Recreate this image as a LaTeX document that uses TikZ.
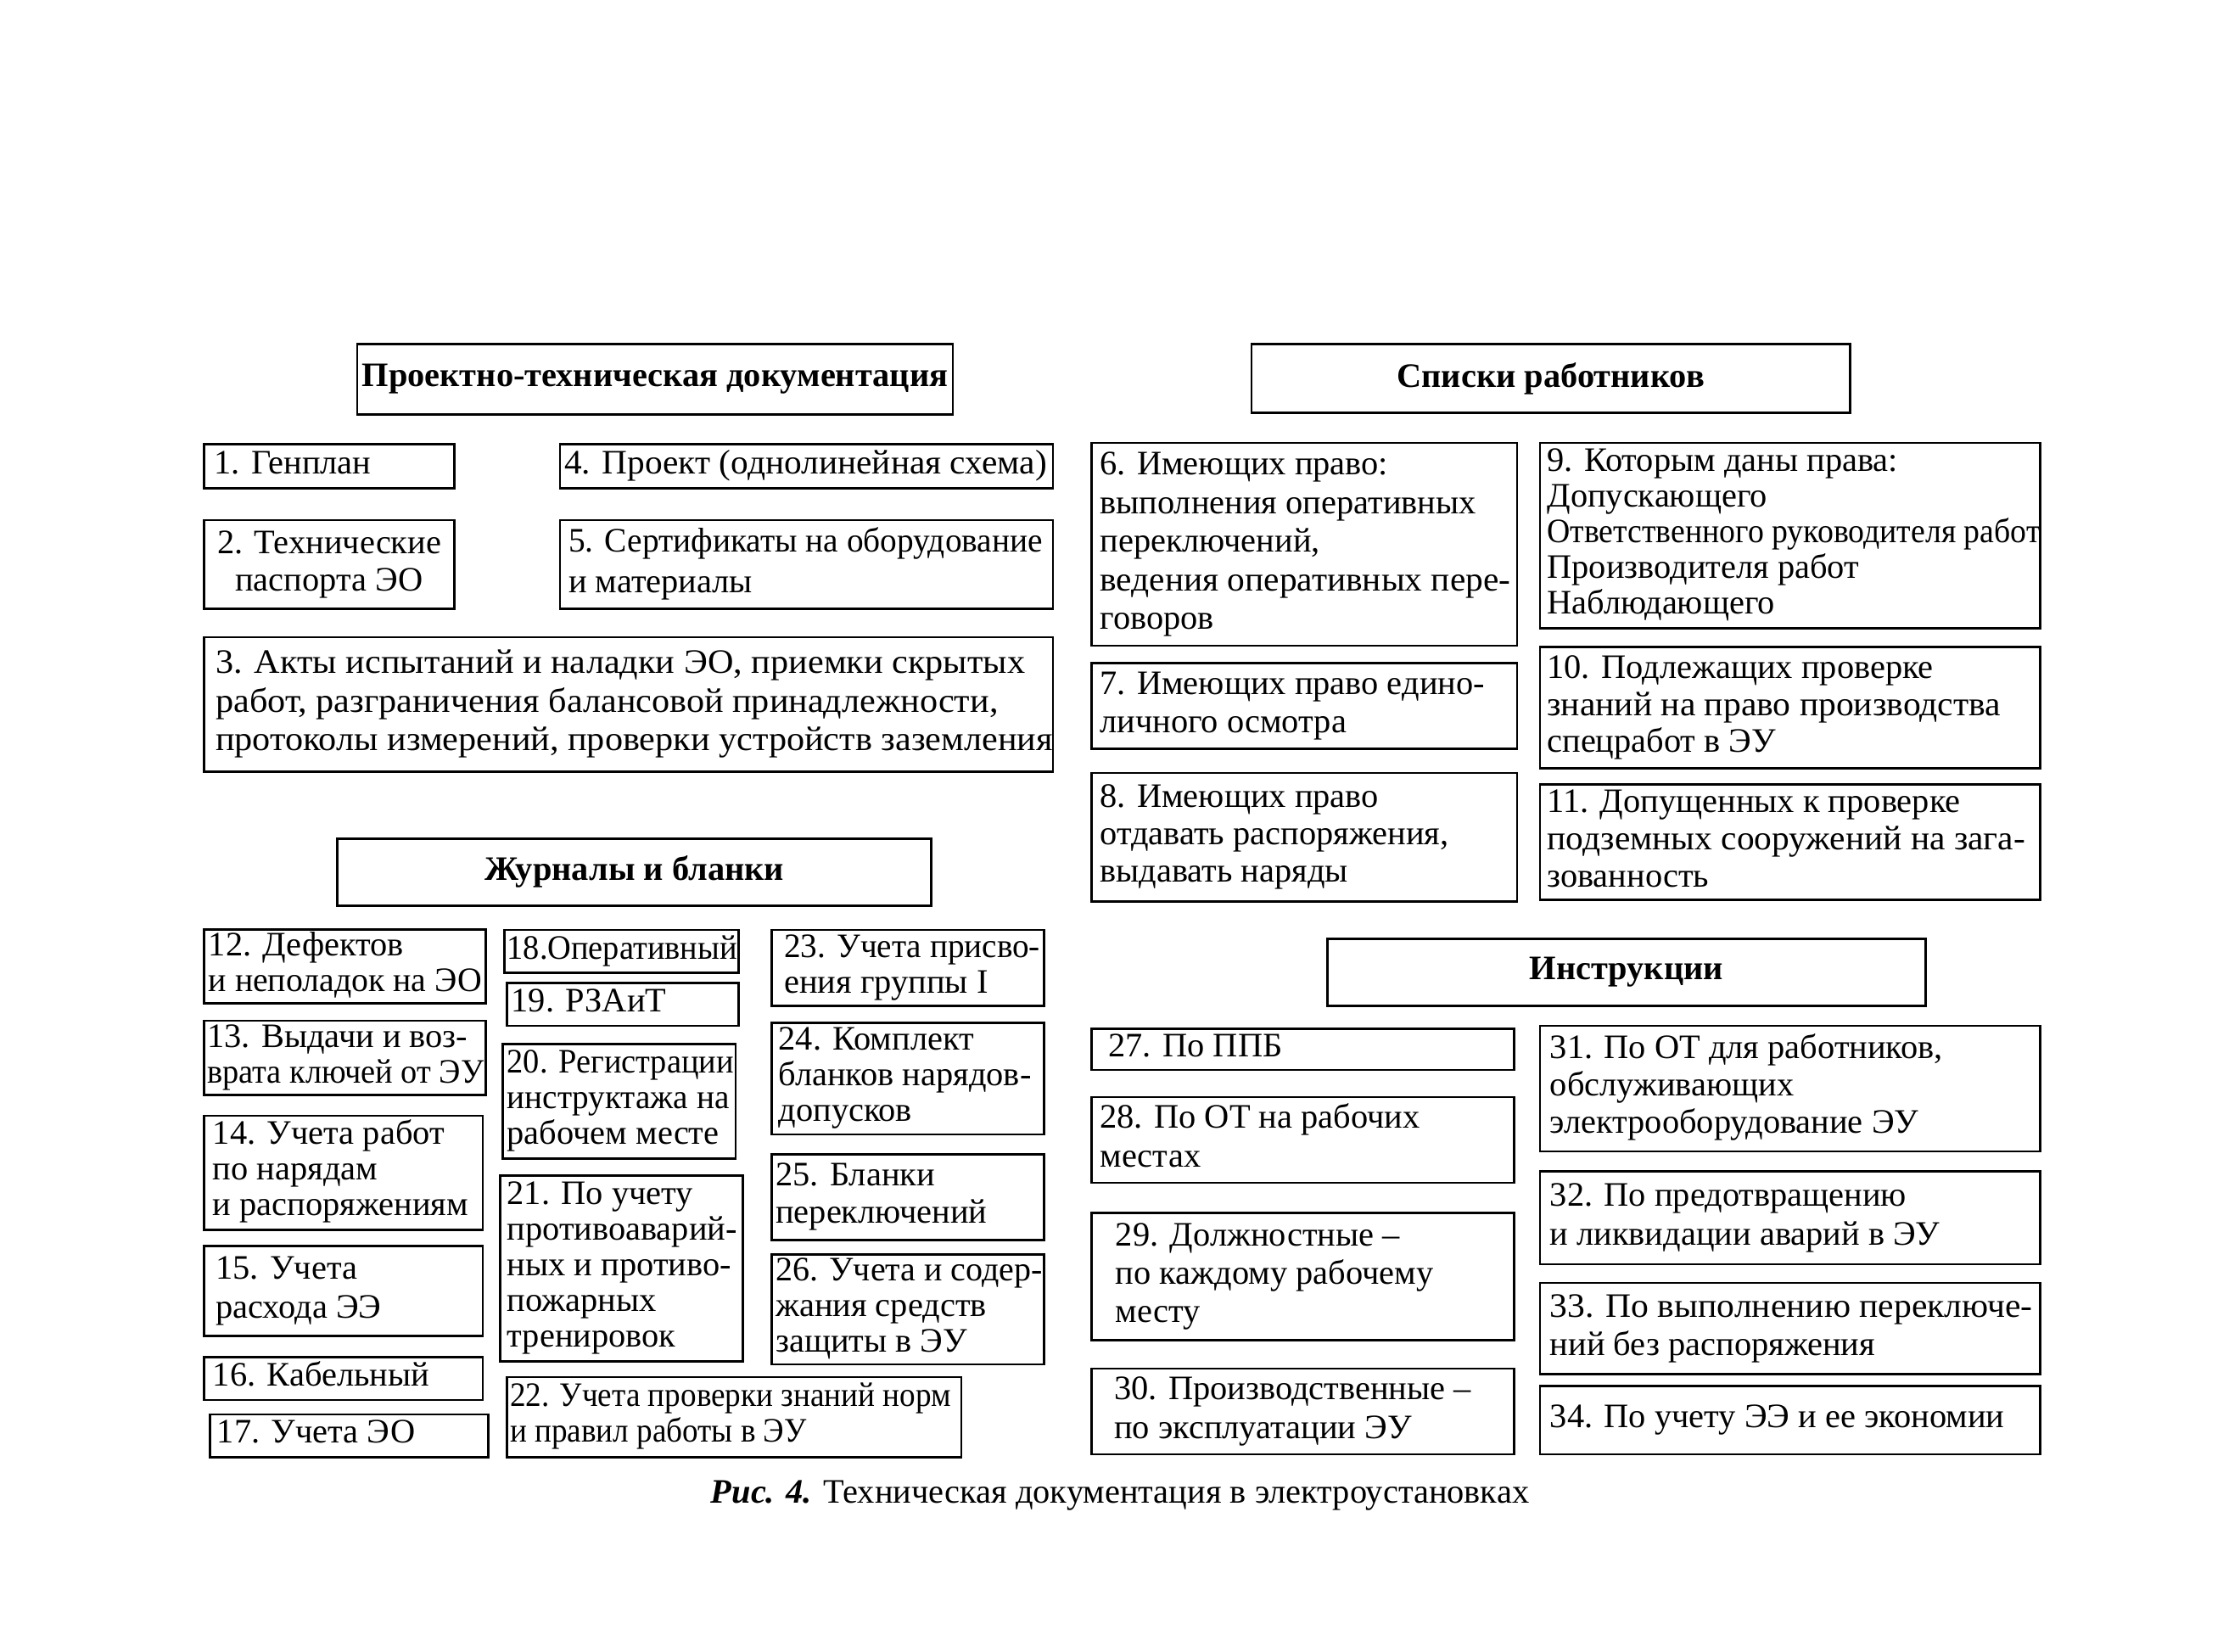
\documentclass[tikz,border=0pt]{standalone}
\usepackage{fontspec}
\usepackage{graphicx}
\setmainfont{Liberation Serif}
\tikzset{
  box/.style={draw, line width=1.6pt, inner xsep=0pt, inner ysep=1pt, font=\fontsize{24}{26}\selectfont},
  hdr/.style={draw, line width=1.6pt, inner sep=0pt, font=\fontsize{24}{26}\selectfont\bfseries},
  lead/.style={font=\fontsize{24}{#1}\selectfont},
  capt/.style={inner sep=0pt, font=\fontsize{24}{26}\selectfont},
}
\newcommand\sq[2]{\scalebox{#1}[1]{#2}}
\newcommand\bx[8][]{%
  \pgfmathsetmacro\bxw{#5-#3}%
  \pgfmathsetmacro\bxh{#6-#4}%
  \pgfmathsetmacro\bxcx{(#3+#5)/2}%
  \pgfmathsetmacro\bxcy{(#4+#6)/2}%
  \node[box,minimum width=\bxw pt,minimum height=\bxh pt,#1] (#2) at (\bxcx,\bxcy)
    {\makebox[\bxw pt][l]{\hspace*{#7pt}\begin{tabular}{@{}l@{}}#8\end{tabular}}};%
}
\newcommand\hd[6]{%
  \pgfmathsetmacro\bxw{#4-#2}%
  \pgfmathsetmacro\bxh{#5-#3}%
  \pgfmathsetmacro\bxcx{(#2+#4)/2}%
  \pgfmathsetmacro\bxcy{(#3+#5)/2}%
  \node[hdr,minimum width=\bxw pt,minimum height=\bxh pt] (#1) at (\bxcx,\bxcy) {#6};%
}
\begin{document}
\begin{tikzpicture}[x=1pt,y=-1pt]
\useasboundingbox[fill=white] (0,0) rectangle (1568,1156);
% --- Project-technical documentation
\hd{h1}{250}{241}{667}{290}{Проектно-техническая документация}
\bx{b1}{143}{311}{318}{342}{7}{1. Генплан}
\bx{b4}{392}{311}{737}{342}{3}{\sq{1.024}{4. Проект (однолинейная схема)}}
\node[box,minimum width=175pt,minimum height=62pt,align=center] (b2) at (230.5,395) {2. Технические\\паспорта ЭО};
\bx[lead=28]{b5}{392}{364}{737}{426}{6}{\sq{0.975}{5. Сертификаты на оборудование}\\и материалы}
\bx[lead=27]{b3}{143}{446}{737}{540}{8}{\sq{1.045}{3. Акты испытаний и наладки ЭО, приемки скрытых}\\\sq{1.045}{работ, разграничения балансовой принадлежности,}\\\sq{1.045}{протоколы измерений, проверки устройств заземления}}
% --- Lists of workers
\hd{h2}{876}{241}{1295}{289}{Списки работников}
\bx[lead=27]{b6}{764}{310}{1062}{452}{6}{6. Имеющих право:\\выполнения оперативных\\переключений,\\\sq{1.025}{ведения оперативных пере-}\\говоров}
\bx[lead=25]{b9}{1078}{310}{1428}{440}{5}{9. Которым даны права:\\Допускающего\\\sq{0.935}{Ответственного руководителя работ}\\Производителя работ\\Наблюдающего}
\bx[lead=27]{b7}{764}{464}{1062}{524}{6}{7. Имеющих право едино-\\личного осмотра}
\bx[lead=26]{b10}{1078}{453}{1428}{538}{5}{10. Подлежащих проверке\\\sq{1.03}{знаний на право производства}\\спецработ в ЭУ}
\bx[lead=26]{b8}{764}{541}{1062}{631}{6}{8. Имеющих право\\отдавать распоряжения,\\выдавать наряды}
\bx[lead=26]{b11}{1078}{549}{1428}{630}{5}{11. Допущенных к проверке\\\sq{1.025}{подземных сооружений на зага-}\\зованность}
% --- Journals and forms
\hd{h3}{236}{587}{652}{634}{Журналы и бланки}
\bx[lead=25]{b12}{143}{651}{340}{702}{3}{12. Дефектов\\\sq{0.985}{и неполадок на ЭО}}
\bx[lead=25]{b13}{143}{715}{340}{766}{2}{13. Выдачи и воз-\\\sq{0.95}{врата ключей от ЭУ}}
\bx[lead=25]{b14}{143}{781}{338}{861}{6}{14. Учета работ\\по нарядам\\и распоряжениям}
\bx[lead=27]{b15}{143}{872}{338}{935}{8}{15. Учета\\расхода ЭЭ}
\bx{b16}{143}{950}{338}{980}{6}{16. Кабельный}
\bx{b17}{147}{990}{342}{1020}{5}{17. Учета ЭО}
\bx{b18}{353}{651}{517}{681}{2}{\sq{0.95}{18.Оперативный}}
\bx{b19}{355}{688}{517}{718}{3}{19. РЗАиТ}
\bx[lead=25]{b20}{352}{731}{515}{811}{3}{\sq{0.95}{20. Регистрации}\\\sq{0.97}{инструктажа на}\\рабочем месте}
\bx[lead=25]{b21}{350}{823}{520}{953}{5}{21. По учету\\противоаварий-\\ных и противо-\\пожарных\\тренировок}
\bx[lead=25]{b22}{355}{964}{673}{1020}{2}{\sq{0.92}{22. Учета проверки знаний норм}\\\sq{0.92}{и правил работы в ЭУ}}
\bx[lead=25]{b23}{540}{651}{731}{704}{9}{\sq{0.97}{23. Учета присво-}\\ения группы I}
\bx[lead=25]{b24}{540}{716}{731}{794}{5}{24. Комплект\\бланков нарядов-\\допусков}
\bx[lead=26]{b25}{540}{808}{731}{868}{3}{25. Бланки\\переключений}
\bx[lead=25]{b26}{540}{878}{731}{955}{3}{\sq{0.99}{26. Учета и содер-}\\жания средств\\защиты в ЭУ}
% --- Instructions
\hd{h4}{929}{657}{1348}{704}{Инструкции}
\bx{b27}{764}{720}{1060}{749}{12}{27. По ППБ}
\bx[lead=27]{b28}{764}{768}{1060}{828}{6}{28. По ОТ на рабочих\\местах}
\bx[lead=27]{b29}{764}{849}{1060}{938}{17}{29. Должностные –\\по каждому рабочему\\месту}
\bx[lead=27]{b30}{764}{958}{1060}{1018}{16}{30. Производственные –\\по эксплуатации ЭУ}
\bx[lead=26]{b31}{1078}{718}{1428}{806}{7}{31. По ОТ для работников,\\обслуживающих\\электрооборудование ЭУ}
\bx[lead=27]{b32}{1078}{820}{1428}{885}{7}{32. По предотвращению\\и ликвидации аварий в ЭУ}
\bx[lead=27]{b33}{1078}{898}{1428}{962}{7}{\sq{1.03}{33. По выполнению переключе-}\\ний без распоряжения}
\bx{b34}{1078}{970}{1428}{1018}{7}{34. По учету ЭЭ и ее экономии}
% --- Caption
\node[capt] (cap) at (784,1047) {\textbf{\textit{Рис. 4.}} Техническая документация в электроустановках};
\end{tikzpicture}
\end{document}
